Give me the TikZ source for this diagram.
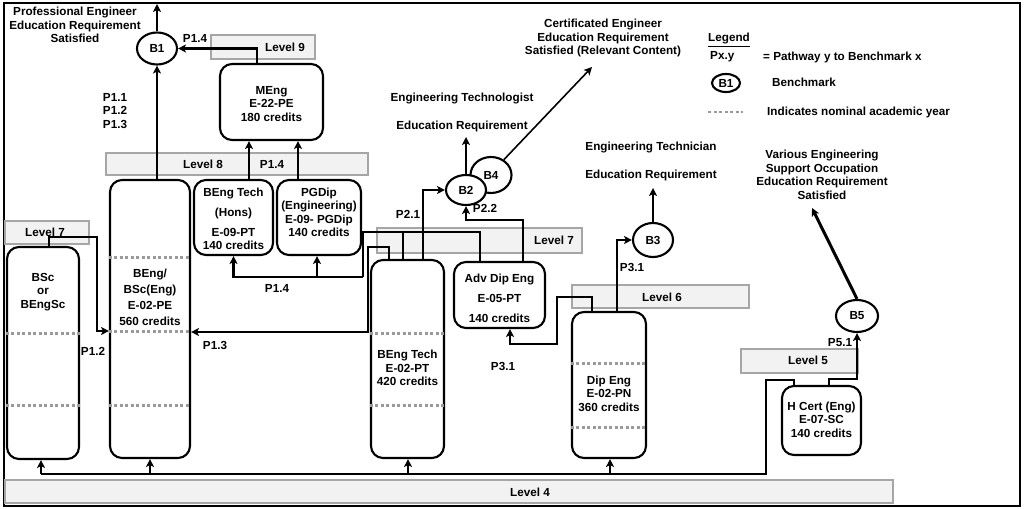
\documentclass[tikz,border=0pt]{standalone}
\usepackage{fontspec}
\setmainfont{Liberation Sans}
\usetikzlibrary{arrows.meta,shapes.geometric}
\definecolor{barfill}{HTML}{F2F2F2}
\definecolor{bardraw}{HTML}{A6A6A6}
\definecolor{yeargray}{HTML}{9A9A9A}
\begin{document}
\begin{tikzpicture}[x=1pt,y=-1pt,
  every node/.style={font=\fontsize{11.7}{13.5}\selectfont\bfseries, inner sep=0pt},
  lvl/.style={draw=bardraw, fill=barfill, line width=1.5pt},
  prog/.style={draw, line width=2.1pt, rounded corners=12pt, fill=white},
  bench/.style={draw, ellipse, line width=2.1pt, fill=white},
  conn/.style={line width=2.5pt, -{Stealth[length=8pt,width=8pt,inset=2pt]}},
  wire/.style={line width=2.5pt},
  yr/.style={draw=yeargray, line width=3pt, dash pattern=on 3pt off 2.5pt},
  txt/.style={align=center},
  wide/.style={align=center, font=\fontsize{11.7}{16}\selectfont\bfseries},
  wider/.style={align=center, font=\fontsize{11.7}{20}\selectfont\bfseries},
]
\useasboundingbox (0,0) rectangle (1024,508);
\draw[line width=2pt] (4,3) rectangle (1020,506);

% level bars
\node[lvl, minimum width=104pt, minimum height=24pt] (L9) at (263,47) {};
\node (L9t) at (285,47) {Level 9};
\node[lvl, minimum width=262pt, minimum height=22pt] (L8) at (237,164) {};
\node (L8t) at (203,164) {Level 8};
\node[lvl, minimum width=84pt, minimum height=23pt] (L7a) at (47,232.5) {};
\node (L7at) at (45,232) {Level 7};
\node[lvl, minimum width=205pt, minimum height=25pt] (L7b) at (479.5,240.5) {};
\node (L7bt) at (554,240) {Level 7};
\node[lvl, minimum width=177pt, minimum height=23pt] (L6) at (660.5,296.5) {};
\node (L6t) at (662,297) {Level 6};
\node[lvl, minimum width=117pt, minimum height=24pt] (L5) at (799.5,361) {};
\node (L5t) at (808,360) {Level 5};
\node[lvl, minimum width=888pt, minimum height=23pt] (L4) at (449,491.5) {};
\node (L4t) at (530,492) {Level 4};

% programme boxes
\node[prog, minimum width=72pt, minimum height=212pt] (BSc) at (43,353) {};
\node[prog, minimum width=80pt, minimum height=278pt] (BEng) at (150,319) {};
\node[prog, minimum width=79pt, minimum height=75pt] (BTH) at (233.5,217.5) {};
\node[prog, minimum width=84pt, minimum height=75pt] (PGD) at (319,217.5) {};
\node[prog, minimum width=103pt, minimum height=76pt] (MEng) at (271.5,102) {};
\node[prog, minimum width=73pt, minimum height=198pt] (BT) at (407.5,359) {};
\node[prog, minimum width=91pt, minimum height=66pt] (ADE) at (499.5,295) {};
\node[prog, minimum width=74pt, minimum height=146pt] (DE) at (609,385) {};
\node[prog, minimum width=79pt, minimum height=69pt] (HC) at (821.5,420.5) {};

% nominal academic years
\draw[yr] (BSc.west |- 0,333) -- (BSc.east |- 0,333);
\draw[yr] (BSc.west |- 0,405) -- (BSc.east |- 0,405);
\draw[yr] (BEng.west |- 0,257) -- (BEng.east |- 0,257);
\draw[yr] (BEng.west |- 0,331) -- (BEng.east |- 0,331);
\draw[yr] (BEng.west |- 0,405) -- (BEng.east |- 0,405);
\draw[yr] (BT.west |- 0,333) -- (BT.east |- 0,333);
\draw[yr] (BT.west |- 0,405) -- (BT.east |- 0,405);
\draw[yr] (DE.west |- 0,363) -- (DE.east |- 0,363);
\draw[yr] (DE.west |- 0,427) -- (DE.east |- 0,427);

% box texts
\node[txt] (BSct) at (43,292) {BSc\\or\\BEngSc};
\node[wide] (BEngt) at (150,297) {BEng/\\BSc(Eng)\\E-02-PE\\560 credits};
\node[txt] (BTHt) at (233.5,219) {BEng Tech\\[6.5pt](Hons)\\[6.5pt]E-09-PT\\140 credits};
\node[txt] (PGDt) at (319,212.5) {PGDip\\(Engineering)\\E-09- PGDip\\140 credits};
\node[txt] (MEngt) at (271.5,104) {MEng\\E-22-PE\\180 credits};
\node[txt] (BTt) at (407.5,368) {BEng Tech\\E-02-PT\\420 credits};
\node[wider] (ADEt) at (499.5,298) {Adv Dip Eng\\E-05-PT\\140 credits};
\node[txt] (DEt) at (609,393.5) {Dip Eng\\E-02-PN\\360 credits};
\node[txt] (HCt) at (821.5,419.5) {H Cert (Eng)\\E-07-SC\\140 credits};

% benchmarks
\node[bench, minimum width=40pt, minimum height=32pt] (B1) at (157,48.5) {B1};
\node[bench, minimum width=41pt, minimum height=36pt] (B4) at (491,175) {B4};
\node[bench, minimum width=40pt, minimum height=30pt] (B2) at (466,190) {B2};
\node[bench, minimum width=40pt, minimum height=34pt] (B3) at (653,240) {B3};
\node[bench, minimum width=42pt, minimum height=32pt] (B5) at (857,316) {B5};

% outcome texts
\node[txt] (PE) at (75,25) {Professional Engineer\\Education Requirement\\Satisfied};
\node[txt] (CE) at (603,38) {Certificated Engineer\\Education Requirement\\Satisfied (Relevant Content)};
\node (ETg1) at (462,99) {Engineering Technologist};
\node (ETg2) at (462,126) {Education Requirement};
\node (ETc1) at (651,147) {Engineering Technician};
\node (ETc2) at (651,175) {Education Requirement};
\node[txt] (VE) at (822,175) {Various Engineering\\Support Occupation\\Education Requirement\\Satisfied};

\coordinate (PEend) at (157,4);
\coordinate (ETgend) at (466,137);
\coordinate (CEend) at (592,67);
\coordinate (ETcend) at (653,188);
\coordinate (VEend) at (812,208);

% connectors
\draw[conn] (B1.north) -- (PEend);
\draw[conn] (157,0 |- BEng.north) -- (B1.south);
\draw[conn] (257,0 |- MEng.north) |- (B1.east);
\draw[conn] (249,0 |- BTH.north) -- (249,0 |- MEng.south);
\draw[conn] (298,0 |- PGD.north) -- (298,0 |- MEng.south);
\draw[wire] (480,0 |- ADE.north) |- (363,232) -- (363,277);
\draw[conn] (363,277) -| (BTH.south);
\draw[conn] (317,277) -- (317,0 |- PGD.south);
\draw[wire] (403,0 |- BT.north) -- (403,232);
\draw[conn] (389,0 |- BT.north) |- (368,247) |- (BEng.east |- 0,332);
\draw[conn] (423,0 |- BT.north) |- (B2.west);
\draw[conn] (523,0 |- ADE.north) |- (466,220) -- (B2.south);
\draw[conn] (B2.north) -- (ETgend);
\draw[conn, line width=1.6pt] (B4.50) -- (CEend);
\draw[conn] (617,0 |- DE.north) |- (B3.west);
\draw[conn] (B3.north) -- (ETcend);
\draw[conn] (592,0 |- DE.north) |- (557,297) |- (510,344) -- (510,0 |- ADE.south);
\draw[conn] (829,0 |- HC.north) |- (857,379) -- (B5.south);
\draw[conn, line width=3pt] (B5.north) -- (VEend);
\draw[wire] (794,0 |- HC.north) |- (766,380) |- (41,474);
\draw[conn] (41,474) -- (41,0 |- BSc.south);
\draw[conn] (150,474) -- (BEng.south);
\draw[conn] (408,474) -- (408,0 |- BT.south);
\draw[conn] (610,474) -- (610,0 |- DE.south);
\draw[conn] (49,0 |- BSc.north) |- (97,237) |- (BEng.west |- 0,331);

% pathway labels
\node (p14a) at (195,38) {P1.4};
\node[txt] (p11) at (115,111) {P1.1\\P1.2\\P1.3};
\node (p14b) at (272,164) {P1.4};
\node (p14c) at (277,288) {P1.4};
\node (p13) at (215,345) {P1.3};
\node (p12) at (93,351) {P1.2};
\node (p21) at (408,214) {P2.1};
\node (p22) at (485,208) {P2.2};
\node (p31a) at (632,267) {P3.1};
\node (p31b) at (503,366) {P3.1};
\node (p51) at (840,343) {P5.1};

% legend
\node[anchor=west] (LG) at (708,40) {\underline{Legend}};
\node[anchor=west] (LP) at (710,57) {Px.y};
\node[anchor=west] (LPd) at (763,57) {= Pathway y to Benchmark x};
\node[bench, minimum width=28pt, minimum height=18pt] (LB1) at (726,83) {B1};
\node[anchor=west] (LBd) at (772,82) {Benchmark};
\coordinate (LY1) at (708,112);
\coordinate (LY2) at (743,112);
\draw[yr, line width=2.2pt] (LY1) -- (LY2);
\node[anchor=west] (LYd) at (767,112) {Indicates nominal academic year};
\end{tikzpicture}
\end{document}
